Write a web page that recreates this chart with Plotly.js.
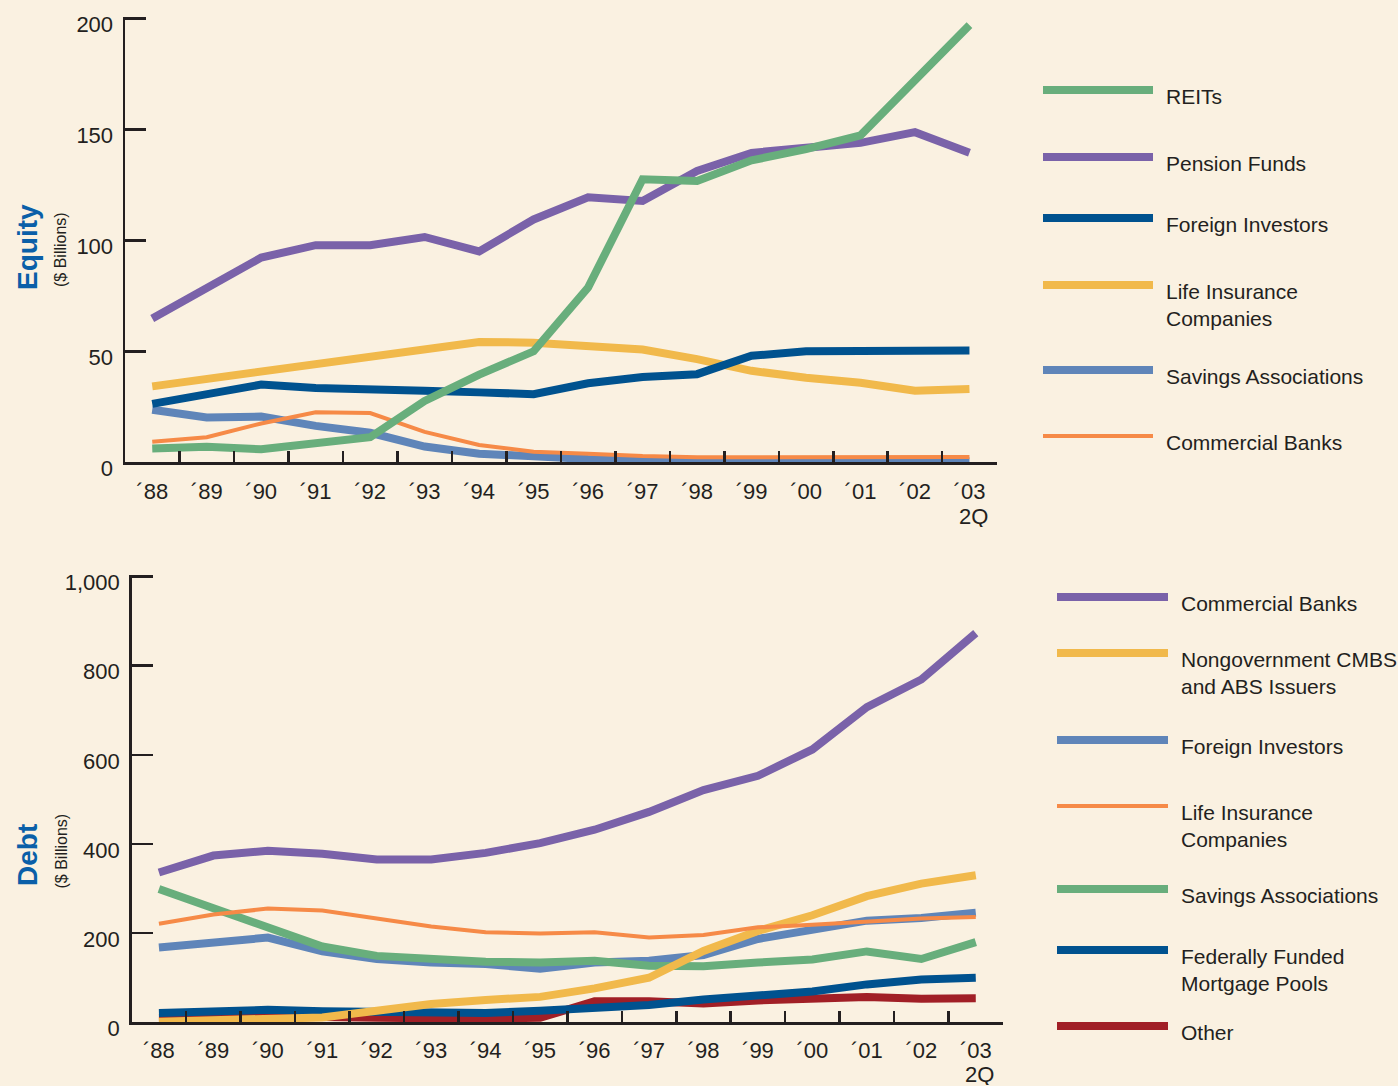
<!DOCTYPE html>
<html>
<head>
<meta charset="utf-8">
<script src="https://cdn.plot.ly/plotly-3.0.1.min.js"></script>
<style>
  html, body { margin: 0; padding: 0; background: #faf1e1; }
  #chart { width: 1398px; height: 1086px; }
</style>
</head>
<body>
<div id="chart"></div>
<script>
// ---------- DATA ----------
const years = ["´88","´89","´90","´91","´92","´93","´94","´95","´96","´97","´98","´99","´00","´01","´02","´03"];
const lastYearNote = "2Q";

// Equity ($ Billions)
const eqREITs        = [6.2, 7.0, 5.9, 9.0, 11.3, 27.6, 39.5, 50.0, 78.7, 127.5, 126.7, 136.0, 141.1, 147.3, 171.6, 196.9];
const eqPension      = [64.8, 78.7, 92.2, 97.8, 97.8, 101.5, 95.0, 109.4, 119.4, 117.7, 131.2, 139.4, 141.9, 143.9, 148.7, 139.4];
const eqForeign      = [26.3, 30.7, 35.0, 33.5, 32.5, 32.2, 31.5, 30.7, 35.6, 38.4, 39.7, 48.0, 50.0, 50.0, 50.8, 50.4];
const eqLifeIns      = [34.2, 37.6, 40.4, 43.9, 46.9, 50.8, 54.2, 53.9, 52.7, 50.8, 46.5, 41.2, 38.1, 35.8, 32.2, 33.0];
const eqSavings      = [23.7, 20.2, 20.6, 16.4, 13.3, 7.1, 3.9, 2.5, 1.5, 1.0, 0.6, 0.6, 0.5, 0.5, 0.5, 0.5];
const eqCommercial   = [9.3, 11.3, 17.5, 22.5, 22.2, 13.7, 7.8, 4.8, 3.9, 2.8, 2.3, 2.3, 2.0, 2.0, 2.4, 2.4];

// Debt ($ Billions)
const dbCommercial   = [336, 374, 385, 378, 365, 365, 380, 402, 432, 472, 521, 553, 612, 707, 769, 873];
const dbNongovCMBS   = [1.5, 6, 6, 11, 26, 41, 50, 57, 76, 100, 160, 205, 240, 283, 311, 330];
const dbForeign      = [168, 181, 190, 159, 142, 134, 131, 120, 134, 138, 151, 187, 208, 228, 234, 246];
const dbLifeIns      = [221, 242, 255, 251, 233, 215, 202, 199, 202, 190, 196, 213, 219, 225, 233, 236];
const dbSavings      = [299, 257, 212, 170, 149, 141, 136, 134, 138, 127, 126, 134, 141, 159, 142, 180];
const dbFederal      = [21, 26, 28, 25, 23, 21, 21, 26, 32, 39, 51, 60, 69, 85, 96, 100];
const dbOther        = [10, 12, 14, 12, 10, 8, 8, 10, 47, 47, 42, 49, 53, 57, 53, 54];

const eqTicks = [0, 50, 100, 150, 200];
const dbTicks = [0, 200, 400, 600, 800, 1000];

// ---------- STYLE ----------
const C = {
  green: "#68ae7c", purple: "#7a62a9", navy: "#00528f", yellow: "#f1b94b",
  lblue: "#5f85b9", orange: "#f68a47", red: "#a11f26", ink: "#231f20",
  title: "#0a5fa8", bg: "#faf1e1"
};
const FONT = "'Liberation Sans', Arial, sans-serif";
const THICK = 8, THIN = 4;

// series definitions (legend order) -> [name, values, color, width]
const eqSeries = [
  ["REITs", eqREITs, C.green, THICK],
  ["Pension Funds", eqPension, C.purple, THICK],
  ["Foreign Investors", eqForeign, C.navy, THICK],
  ["Life Insurance<br>Companies", eqLifeIns, C.yellow, THICK],
  ["Savings Associations", eqSavings, C.lblue, THICK],
  ["Commercial Banks", eqCommercial, C.orange, THIN]
];
const eqDrawOrder = [4, 5, 3, 2, 1, 0];

const dbSeries = [
  ["Commercial Banks", dbCommercial, C.purple, THICK],
  ["Nongovernment CMBS<br>and ABS Issuers", dbNongovCMBS, C.yellow, THICK],
  ["Foreign Investors", dbForeign, C.lblue, THICK],
  ["Life Insurance<br>Companies", dbLifeIns, C.orange, THIN],
  ["Savings Associations", dbSavings, C.green, THICK],
  ["Federally Funded<br>Mortgage Pools", dbFederal, C.navy, THICK],
  ["Other", dbOther, C.red, THICK]
];
const dbDrawOrder = [6, 5, 2, 4, 1, 3, 0];

// ---------- LAYOUT HELPERS ----------
const W = 1398, H = 1086;
const px = v => v / W;
const py = v => 1 - v / H;

const traces = [];
eqDrawOrder.forEach(i => {
  const s = eqSeries[i];
  traces.push({
    type: "scatter", mode: "lines", x: years, y: s[1], name: s[0].replace("<br>", " "),
    xaxis: "x", yaxis: "y", line: { color: s[2], width: s[3] },
    hoverinfo: "skip", showlegend: false
  });
});
dbDrawOrder.forEach(i => {
  const s = dbSeries[i];
  traces.push({
    type: "scatter", mode: "lines", x: years, y: s[1], name: s[0].replace("<br>", " "),
    xaxis: "x2", yaxis: "y2", line: { color: s[2], width: s[3] },
    hoverinfo: "skip", showlegend: false
  });
});

const tickFont = { family: FONT, size: 22, color: C.ink };
function xAxis(domain, anchor, standoff) {
  return {
    domain, anchor, type: "category", range: [-0.5, years.length - 0.5],
    tickson: "boundaries", ticks: "inside", ticklen: 11, tickwidth: 2.5, tickcolor: C.ink,
    showline: true, linewidth: 2.5, linecolor: C.ink, showgrid: false, zeroline: false,
    tickfont: tickFont, ticklabelstandoff: standoff, fixedrange: true
  };
}
// yPix0: pixel row of value 0, yPixTop: pixel row of top tick value
function yAxis(anchor, yPix0, yPixTop, topVal, tickvals) {
  const pad = topVal * 0.004;
  const perUnit = (yPix0 - yPixTop) / topVal;
  return {
    domain: [py(yPix0), py(yPixTop - pad * perUnit)], anchor, range: [0, topVal + pad], tickvals,
    tickformat: ",d",
    ticks: "inside", ticklen: 21, tickwidth: 2.5, tickcolor: C.ink,
    showline: true, linewidth: 2.5, linecolor: C.ink, showgrid: false, zeroline: false,
    tickfont: tickFont, ticklabelstandoff: 5, ticklabelshift: 6, fixedrange: true
  };
}

// legend built from series definitions
const shapes = [], annotations = [];
function buildLegend(series, lineX0, lineX1, textX, lineYs) {
  series.forEach((s, i) => {
    const y = lineYs[i];
    shapes.push({
      type: "line", xref: "paper", yref: "paper",
      x0: px(lineX0), x1: px(lineX1), y0: py(y), y1: py(y),
      line: { color: s[2], width: s[3] }
    });
    const n = s[0].split("<br>").length;
    annotations.push({
      xref: "paper", yref: "paper", x: px(textX), y: py(y + 6.5 + (n - 1) * 13.6),
      xanchor: "left", yanchor: "middle", align: "left", showarrow: false,
      text: s[0], font: { family: FONT, size: 21, color: C.ink }
    });
  });
}
buildLegend(eqSeries, 1043, 1153, 1164, [90, 157, 218, 285, 370, 436]);
buildLegend(dbSeries, 1057, 1168, 1178.5, [597, 653, 740, 806, 889, 950, 1026]);

function yTitle(main, cyMain, cySub) {
  annotations.push({
    xref: "paper", yref: "paper", x: px(27), y: py(cyMain), xanchor: "center", yanchor: "middle",
    textangle: -90, showarrow: false, text: "<b>" + main + "</b>",
    font: { family: FONT, size: 28, color: C.title }
  });
  annotations.push({
    xref: "paper", yref: "paper", x: px(60.5), y: py(cySub), xanchor: "center", yanchor: "middle",
    textangle: -90, showarrow: false, text: "($ Billions)",
    font: { family: FONT, size: 16, color: C.ink }
  });
}
yTitle("Equity", 247, 249.5);
yTitle("Debt", 855, 851);

// second line under the last year's tick label
function yearNote(xref, cy) {
  annotations.push({
    xref, yref: "paper", x: years[years.length - 1], y: py(cy), xshift: 4,
    xanchor: "center", yanchor: "middle", showarrow: false, text: lastYearNote,
    height: 22, borderpad: 0, font: tickFont
  });
}
yearNote("x", 516.5);
yearNote("x2", 1074);

const layout = {
  width: W, height: H,
  margin: { l: 0, r: 0, t: 0, b: 0 },
  paper_bgcolor: C.bg, plot_bgcolor: C.bg,
  showlegend: false,
  xaxis: xAxis([px(125), px(996.7)], "y", 8),
  yaxis: yAxis("x", 462.3, 18.3, 200, eqTicks),
  xaxis2: xAxis([px(131.7), px(1003)], "y2", 7),
  yaxis2: yAxis("x2", 1022.3, 576.5, 1000, dbTicks),
  shapes, annotations
};

Plotly.newPlot("chart", traces, layout, { staticPlot: true, displayModeBar: false });
</script>
</body>
</html>
